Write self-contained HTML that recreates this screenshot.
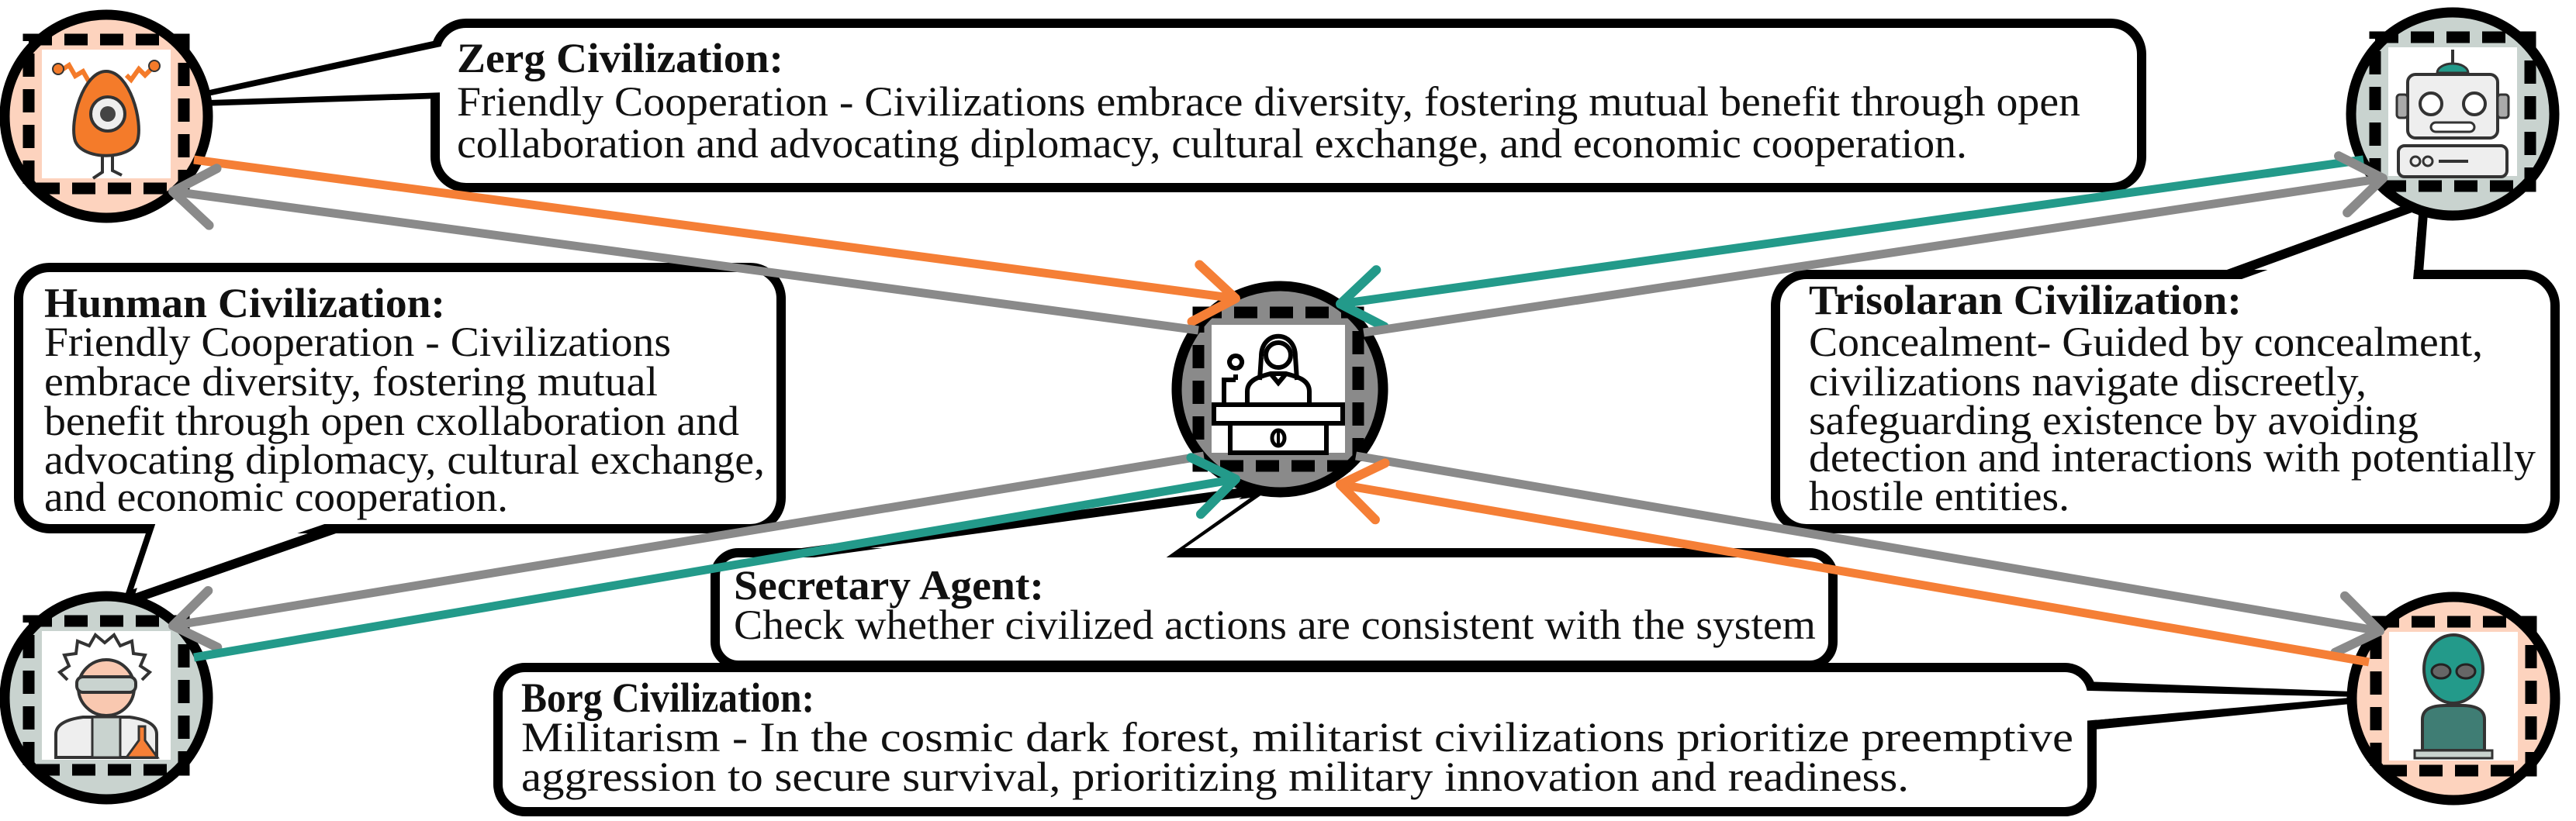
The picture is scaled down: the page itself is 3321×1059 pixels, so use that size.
<!DOCTYPE html>
<html><head><meta charset="utf-8"><style>
html,body{margin:0;padding:0;background:#fff;}
svg{display:block;}
text{font-family:"Liberation Serif","Times New Roman","DejaVu Serif",serif;font-size:54px;fill:#111;}
.b{font-weight:bold;}
</style></head><body>
<svg width="3321" height="1059" viewBox="0 0 3321 1059" xmlns="http://www.w3.org/2000/svg" font-family="Liberation Serif, serif">
<defs>
<marker id="mo" viewBox="0 0 70 90" refX="60" refY="45" markerWidth="70" markerHeight="90" markerUnits="userSpaceOnUse" orient="auto"><path d="M8,8 L60,45 L8,82" fill="none" stroke="#F57F36" stroke-width="12" stroke-linecap="round" stroke-linejoin="round"/></marker>
<marker id="mg" viewBox="0 0 70 90" refX="60" refY="45" markerWidth="70" markerHeight="90" markerUnits="userSpaceOnUse" orient="auto"><path d="M8,8 L60,45 L8,82" fill="none" stroke="#8A8A8A" stroke-width="12" stroke-linecap="round" stroke-linejoin="round"/></marker>
<marker id="mt" viewBox="0 0 70 90" refX="60" refY="45" markerWidth="70" markerHeight="90" markerUnits="userSpaceOnUse" orient="auto"><path d="M8,8 L60,45 L8,82" fill="none" stroke="#239A8A" stroke-width="12" stroke-linecap="round" stroke-linejoin="round"/></marker>
</defs>

<g stroke="#000" stroke-width="12" stroke-linejoin="miter" fill="#fff">
<polygon points="600,50 225,132 600,120"/>
<polygon points="207,650 165,775 524,650"/>
<polygon points="2773,390 3125,262 3115,390"/>
<polygon points="932,727 1625,632 1488,727"/>
<polygon points="2660,884 3060,899 2660,939"/>
<rect x="561" y="30" width="2200" height="212" rx="40"/>
<rect x="24" y="345" width="983" height="337" rx="40"/>
<rect x="2289" y="354" width="1005" height="328" rx="40"/>
<rect x="922" y="713" width="1441" height="145" rx="30"/>
<rect x="642" y="861" width="2055" height="186" rx="35"/>
</g>
<g fill="#fff" stroke="none">
<polygon points="606,52 240,130 606,118"/>
<polygon points="211,644 172,760 512,644"/>
<polygon points="2790,396 3118,278 3108,396"/>
<polygon points="948,733 1612,642 1484,733"/>
<polygon points="2652,890 3040,899 2652,933"/>
</g>

<g stroke="#000" stroke-width="13">
<circle cx="137" cy="150" r="131" fill="#FDD3BE"/>
<circle cx="137" cy="900" r="131" fill="#C9D3CF"/>
<circle cx="3162" cy="147" r="131" fill="#C9D3CF"/>
<circle cx="3163" cy="901" r="131" fill="#FDD3BE"/>
<circle cx="1650" cy="502" r="133" fill="#8A8A8A"/>
</g>
<g fill="none" stroke="#000" stroke-width="15" stroke-dasharray="30 16">
<rect x="37" y="51" width="200" height="192"/>
<rect x="37" y="801" width="200" height="192"/>
<rect x="3062" y="48" width="200" height="192"/>
<rect x="3063" y="802" width="200" height="192"/>
<rect x="1545" y="403" width="206" height="198"/>
</g>
<g fill="#fff">
<rect x="54" y="64" width="166" height="166"/>
<rect x="54" y="814" width="166" height="166"/>
<rect x="3079" y="61" width="166" height="166"/>
<rect x="3080" y="815" width="166" height="166"/>
<rect x="1562" y="419" width="172" height="165"/>
</g>

<g transform="translate(137,147)">
<path d="M-60,-55 l12,-8 l8,14 l10,-6 l8,14" fill="none" stroke="#F47B2A" stroke-width="6"/>
<path d="M60,-60 l-10,10 l-8,-8 l-10,14 l-6,-6" fill="none" stroke="#F47B2A" stroke-width="6"/>
<circle cx="-62" cy="-58" r="7" fill="#F47B2A" stroke="#333" stroke-width="2"/>
<circle cx="62" cy="-62" r="7" fill="#F47B2A" stroke="#333" stroke-width="2"/>
<path d="M0,-55 C30,-55 48,10 40,35 C30,60 -30,60 -40,35 C-48,10 -30,-55 0,-55Z" fill="#F47B2A" stroke="#333" stroke-width="4"/>
<circle cx="2" cy="0" r="22" fill="#eee" stroke="#333" stroke-width="4"/>
<circle cx="2" cy="0" r="10" fill="#444"/>
<path d="M-5,55 l0,20 l-12,8 M8,55 l0,18 l12,6" fill="none" stroke="#333" stroke-width="4"/>
</g>
<g transform="translate(137,897)">
<path d="M-50,-20 l-10,-10 l12,-8 l-6,-14 l15,-2 l2,-16 l15,6 l8,-14 l12,10 l12,-10 l8,14 l15,-6 l2,16 l15,2 l-6,14 l12,8 l-10,10" fill="#fff" stroke="#333" stroke-width="4"/>
<circle cx="0" cy="-10" r="36" fill="#F9C8B0" stroke="#333" stroke-width="4"/>
<rect x="-38" y="-24" width="76" height="20" rx="8" fill="#C9D3CF" stroke="#333" stroke-width="4"/>
<path d="M-65,80 L-65,50 C-65,35 -45,30 -30,28 L30,28 C45,30 65,35 65,50 L65,80Z" fill="#eee" stroke="#333" stroke-width="4"/>
<rect x="-18" y="28" width="36" height="52" fill="#C9D3CF" stroke="#333" stroke-width="3"/>
<path d="M42,40 l0,18 l-16,22 l40,0 l-16,-22 l0,-18z" fill="#F57F36" stroke="#333" stroke-width="3"/>
</g>
<g transform="translate(3162,144)">
<line x1="0" y1="-80" x2="0" y2="-58" stroke="#333" stroke-width="4"/>
<path d="M-20,-50 a20,12 0 0 1 40,0z" fill="#239A8A" stroke="#333" stroke-width="3"/>
<rect x="-58" y="-48" width="116" height="82" rx="10" fill="#eee" stroke="#333" stroke-width="4"/>
<rect x="-72" y="-22" width="14" height="30" rx="4" fill="#aaa" stroke="#333" stroke-width="3"/>
<rect x="58" y="-22" width="14" height="30" rx="4" fill="#aaa" stroke="#333" stroke-width="3"/>
<circle cx="-28" cy="-10" r="14" fill="#fff" stroke="#333" stroke-width="4"/>
<circle cx="28" cy="-10" r="14" fill="#fff" stroke="#333" stroke-width="4"/>
<rect x="-28" y="14" width="56" height="12" rx="6" fill="#fff" stroke="#333" stroke-width="3"/>
<rect x="-70" y="44" width="140" height="40" rx="8" fill="#eee" stroke="#333" stroke-width="4"/>
<circle cx="-48" cy="64" r="6" fill="none" stroke="#333" stroke-width="3"/>
<circle cx="-32" cy="64" r="6" fill="none" stroke="#333" stroke-width="3"/>
<line x1="-18" y1="64" x2="20" y2="64" stroke="#333" stroke-width="4"/>
</g>
<g transform="translate(3163,898)">
<ellipse cx="0" cy="-35" rx="38" ry="44" fill="#239A8A" stroke="#333" stroke-width="4"/>
<ellipse cx="-16" cy="-32" rx="12" ry="9" fill="#666" stroke="#222" stroke-width="3"/>
<ellipse cx="16" cy="-32" rx="12" ry="9" fill="#666" stroke="#222" stroke-width="3"/>
<path d="M-40,70 L-40,30 C-40,15 -25,12 -10,12 L10,12 C25,12 40,15 40,30 L40,70Z" fill="#3F7D74" stroke="#333" stroke-width="4"/>
<rect x="-50" y="70" width="100" height="10" fill="#C9D3CF" stroke="#333" stroke-width="3"/>
</g>
<g transform="translate(1648,500)" fill="none" stroke="#000" stroke-width="6">
<path d="M-22,-40 C-22,-75 22,-75 22,-40 L24,-10 M-22,-40 L-24,-10"/>
<circle cx="0" cy="-42" r="16"/>
<path d="M-40,20 L-40,5 C-40,-10 -25,-14 -10,-18 L10,-18 C25,-14 40,-10 40,5 L40,20"/>
<path d="M-10,-18 L0,-6 L10,-18"/>
<path d="M-70,20 L-70,-10 L-55,-10 M-55,-25 a8,8 0 1 1 0.1,0 M-55,-17 L-55,-10"/>
<rect x="-83" y="22" width="166" height="24" fill="#fff"/>
<rect x="-62" y="46" width="124" height="38" fill="#fff"/>
<ellipse cx="0" cy="65" rx="8" ry="10" stroke-width="5"/>
<line x1="0" y1="55" x2="0" y2="75" stroke-width="4"/>
</g>

<g fill="none" stroke-width="11" stroke-linecap="butt">
<line x1="250" y1="206" x2="1593" y2="385" stroke="#F57F36" marker-end="url(#mo)"/>
<line x1="1545" y1="426" x2="223" y2="247" stroke="#8A8A8A" marker-end="url(#mg)"/>
<line x1="3047" y1="206" x2="1728" y2="392" stroke="#239A8A" marker-end="url(#mt)"/>
<line x1="1758" y1="429" x2="3072" y2="230" stroke="#8A8A8A" marker-end="url(#mg)"/>
<line x1="1552" y1="588" x2="223" y2="807" stroke="#8A8A8A" marker-end="url(#mg)"/>
<line x1="250" y1="848" x2="1593" y2="618" stroke="#239A8A" marker-end="url(#mt)"/>
<line x1="1748" y1="588" x2="3068" y2="814" stroke="#8A8A8A" marker-end="url(#mg)"/>
<line x1="3054" y1="854" x2="1728" y2="625" stroke="#F57F36" marker-end="url(#mo)"/>
</g>

<g font-family="Liberation Serif, serif">
<text class="b" x="589" y="93" textLength="421" lengthAdjust="spacingAndGlyphs">Zerg Civilization:</text>
<text x="589" y="149" textLength="2093" lengthAdjust="spacingAndGlyphs">Friendly Cooperation - Civilizations embrace diversity, fostering mutual benefit through open</text>
<text x="589" y="203" textLength="1947" lengthAdjust="spacingAndGlyphs">collaboration and advocating diplomacy, cultural exchange, and economic cooperation.</text>

<text class="b" x="57" y="409" textLength="517" lengthAdjust="spacingAndGlyphs">Hunman Civilization:</text>
<text x="57" y="459" textLength="808" lengthAdjust="spacingAndGlyphs">Friendly Cooperation - Civilizations</text>
<text x="57" y="510" textLength="791" lengthAdjust="spacingAndGlyphs">embrace diversity, fostering mutual</text>
<text x="57" y="561" textLength="896" lengthAdjust="spacingAndGlyphs">benefit through open cxollaboration and</text>
<text x="57" y="611" textLength="929" lengthAdjust="spacingAndGlyphs">advocating diplomacy, cultural exchange,</text>
<text x="57" y="659" textLength="598" lengthAdjust="spacingAndGlyphs">and economic cooperation.</text>

<text class="b" x="2332" y="405" textLength="558" lengthAdjust="spacingAndGlyphs">Trisolaran Civilization:</text>
<text x="2332" y="459" textLength="869" lengthAdjust="spacingAndGlyphs">Concealment- Guided by concealment,</text>
<text x="2332" y="510" textLength="719" lengthAdjust="spacingAndGlyphs">civilizations navigate discreetly,</text>
<text x="2332" y="560" textLength="786" lengthAdjust="spacingAndGlyphs">safeguarding existence by avoiding</text>
<text x="2332" y="608" textLength="937" lengthAdjust="spacingAndGlyphs">detection and interactions with potentially</text>
<text x="2332" y="658" textLength="336" lengthAdjust="spacingAndGlyphs">hostile entities.</text>

<text class="b" x="946" y="773" textLength="400" lengthAdjust="spacingAndGlyphs">Secretary Agent:</text>
<text x="946" y="824" textLength="1395" lengthAdjust="spacingAndGlyphs">Check whether civilized actions are consistent with the system</text>

<text class="b" x="672" y="918" textLength="378" lengthAdjust="spacingAndGlyphs">Borg Civilization:</text>
<text x="672" y="969" textLength="2001" lengthAdjust="spacingAndGlyphs">Militarism - In the cosmic dark forest, militarist civilizations prioritize preemptive</text>
<text x="672" y="1020" textLength="1789" lengthAdjust="spacingAndGlyphs">aggression to secure survival, prioritizing military innovation and readiness.</text>
</g>
</svg>
</body></html>
